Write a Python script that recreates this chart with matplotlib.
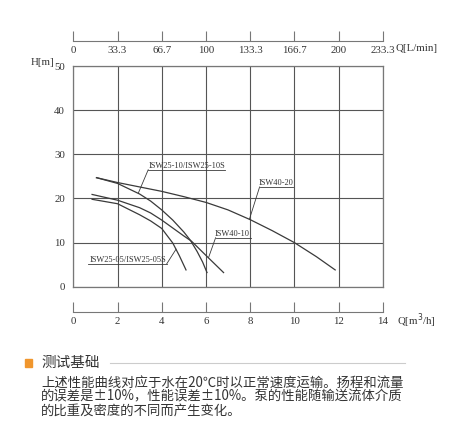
import matplotlib
matplotlib.use("Agg")
import matplotlib.pyplot as plt
from matplotlib.patches import Rectangle
from matplotlib.lines import Line2D

# flow in m3/h, head in m
q_4020 = [1.05, 2, 3, 4, 5, 6, 7, 8, 9, 10, 11, 11.85]
h_4020 = [24.7, 23.6, 22.6, 21.6, 20.4, 19.1, 17.4, 15.2, 12.7, 10.0, 6.8, 3.8]

q_2510 = [1.05, 2, 3, 3.5, 4, 4.5, 5, 5.3, 5.6, 5.85, 6.05]
h_2510 = [24.7, 23.4, 21.0, 19.4, 17.4, 15.1, 12.4, 10.5, 8.0, 5.6, 3.2]

q_4010 = [0.85, 2, 3, 3.5, 4, 4.5, 5, 5.35, 6, 6.8]
h_4010 = [20.9, 19.6, 17.9, 16.7, 15.1, 13.3, 11.5, 10.3, 7.1, 3.2]

q_2505 = [0.85, 2, 3, 3.5, 4, 4.5, 4.8, 5.1]
h_2505 = [19.8, 18.8, 16.3, 14.9, 13.2, 9.9, 7.0, 3.8]

q_ticks = [0, 2, 4, 6, 8, 10, 12, 14]
lmin_labels = ["0", "33.3", "66.7", "100", "133.3", "166.7", "200", "233.3"]
h_ticks = [0, 10, 20, 30, 40, 50]

# label text, text pos, underline x-range, leader end point
labels = [
    ("ISW25-10/ISW25-10S", (5.17, 26.5), (3.39, 6.86), (2.95, 21.3)),
    ("ISW40-20", (9.17, 22.6), (8.43, 9.94), (7.97, 15.3)),
    ("ISW40-10", (7.2, 11.1), (6.44, 8.03), (6.12, 6.6)),
    ("ISW25-05/ISW25-05S", (2.46, 5.2), (0.68, 4.23), (4.65, 8.5)),
]

W, H = 469, 443
fig = plt.figure(figsize=(W / 100, H / 100), dpi=100)
fig.patch.set_facecolor("white")

line_c = "#3a3a3a"
grid_c = "#555555"
tick_font = dict(family="Liberation Serif", size=7.8, color="#333333")

left, right = 73.3 / W, 382.7 / W
bottom, top = 1 - 286.7 / H, 1 - 66.0 / H
ax = fig.add_axes([left, bottom, right - left, top - bottom])
ax.set_xlim(0, 14)
ax.set_ylim(0, 50)
for s in ax.spines.values():
    s.set_color("#777777")
    s.set_linewidth(0.9)
ax.set_xticks(q_ticks)
ax.set_yticks(h_ticks)
ax.tick_params(axis="x", length=0, labelbottom=False)
ax.tick_params(axis="y", length=0, pad=6, labelsize=7.8, labelcolor="#333333")
for t in ax.get_yticklabels():
    t.set_family("Liberation Serif")
ax.grid(True, color=grid_c, linewidth=0.8)

for q, h in [(q_4020, h_4020), (q_2510, h_2510), (q_4010, h_4010), (q_2505, h_2505)]:
    ax.plot(q, h, color=line_c, linewidth=0.9)

for name, (tx, ty), (ux0, ux1), (lx, ly) in labels:
    ax.text(tx, ty, name, ha="center", va="bottom", fontsize=6,
            family="Liberation Serif", color="#333333")
    ax.plot([ux0, ux1], [ty, ty], color=line_c, linewidth=0.6)
    start = ux0 if abs(lx - ux0) < abs(lx - ux1) else ux1
    ax.plot([start, lx], [ty, ly], color=line_c, linewidth=0.6)

# bottom flow axis (m3/h)
axb = fig.add_axes([left, 1 - 311.7 / H, right - left, 1e-6])
axb.set_xlim(0, 14)
axb.set_yticks([])
for k in ["top", "left", "right"]:
    axb.spines[k].set_visible(False)
axb.spines["bottom"].set_color("#777777")
axb.set_xticks(q_ticks)
axb.set_xticklabels([str(v) for v in q_ticks], **tick_font)
axb.tick_params(axis="x", direction="in", length=7, width=0.8, color="#777777", pad=4)

# top flow axis (L/min)
axt = fig.add_axes([left, 1 - 40.7 / H, right - left, 1e-6])
axt.set_xlim(0, 14)
axt.set_yticks([])
for k in ["top", "left", "right"]:
    axt.spines[k].set_visible(False)
axt.spines["bottom"].set_color("#777777")
axt.set_xticks(q_ticks)
axt.set_xticklabels(lmin_labels, **tick_font)
axt.tick_params(axis="x", direction="in", length=7, width=0.8, color="#777777", pad=4)

fig.text(395 / W, 1 - 48.3 / H, "Q[L/min]", ha="left", va="center", **tick_font)
fig.text(397 / W, 1 - 320.7 / H, "Q[m$^3$/h]", ha="left", va="center", **tick_font)
fig.text(30.7 / W, 1 - 62.7 / H, "H[m]", ha="left", va="center", **tick_font)

# test basis note
cjk = ["Noto Sans CJK SC", "DejaVu Sans"]
fig.patches.append(Rectangle((25 / W, 1 - 366.7 / H), 7.3 / W, 7.3 / H,
                             transform=fig.transFigure, color="#f0962d"))
fig.text(41 / W, 1 - 362.7 / H, "测试基础", ha="left", va="center",
         fontsize=10.5, family=cjk, color="#333333")
fig.lines.append(Line2D([110 / W, 405 / W], [1 - 362.7 / H, 1 - 362.7 / H],
                        transform=fig.transFigure, color="#cccccc", linewidth=0.8))
note = [
    "上述性能曲线对应于水在20℃时以正常速度运输。扬程和流量",
    "的误差是±10%，性能误差±10%。泵的性能随输送流体介质",
    "的比重及密度的不同而产生变化。",
]
for i, line in enumerate(note):
    fig.text(41 / W, 1 - (382.3 + 14.3 * i) / H, line, ha="left", va="center",
             fontsize=9.6, family=cjk, color="#333333")

fig.savefig("out.png", dpi=100, facecolor="white")
